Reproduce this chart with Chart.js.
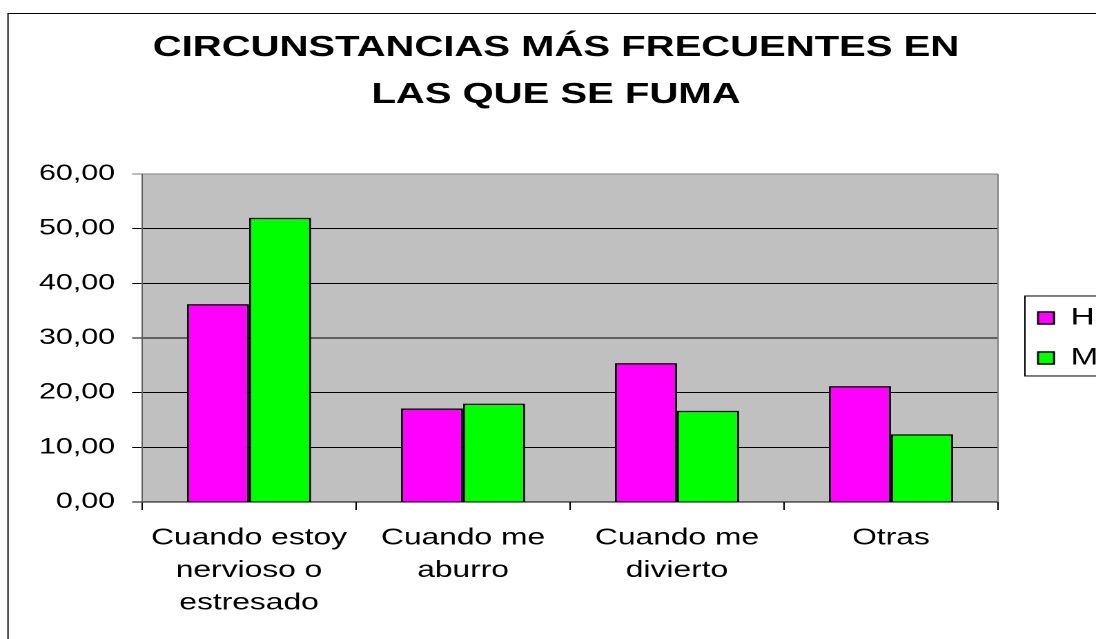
<!DOCTYPE html>
<html>
<head>
<meta charset="utf-8">
<script src="https://cdn.jsdelivr.net/npm/chart.js@4.4.1/dist/chart.umd.min.js"></script>
<style>
  html, body { margin: 0; padding: 0; background: #ffffff; overflow: hidden; }
  #wrap { width: 794px; height: 639px; transform: scaleX(1.38035); transform-origin: 0 0; }
  canvas { display: block; }
</style>
</head>
<body>
<div id="wrap"><canvas id="c" width="794" height="639"></canvas></div>
<script>
// ---- data ----
const titleLines = ["CIRCUNSTANCIAS MÁS FRECUENTES EN", "LAS QUE SE FUMA"];
const categories = [
  ["Cuando estoy", "nervioso o", "estresado"],
  ["Cuando me", "aburro"],
  ["Cuando me", "divierto"],
  "Otras"
];
const seriesNames = ["H", "M"];
const valuesH = [36.2, 17.1, 25.4, 21.2];
const valuesM = [52.0, 18.0, 16.7, 12.4];
const yMin = 0, yMax = 60, yStep = 10;

// ---- layout helpers (canvas space, horizontally stretched by CSS) ----
const FONT = "'Liberation Sans', Arial, sans-serif";
const LEGEND_PAD = 16;

const decor = {
  id: 'decor',
  afterLayout(chart) {
    const lg = chart.legend;
    const w = lg.width;
    lg.left = chart.chartArea.right + 13;
    lg.right = lg.left + w;
  },
  beforeDraw(chart) {
    const ctx = chart.ctx, a = chart.chartArea;
    ctx.save();
    ctx.fillStyle = '#ffffff';
    ctx.fillRect(0, 0, chart.width, chart.height);
    // outer frame
    ctx.strokeStyle = '#000000';
    ctx.lineWidth = 1;
    ctx.strokeRect(5.8, 13.5, chart.width + 20, chart.height + 20);
    // plot area background
    ctx.fillStyle = '#c0c0c0';
    ctx.fillRect(a.left, a.top, a.right - a.left, a.bottom - a.top);
    ctx.restore();
  },
  afterDraw(chart) {
    const ctx = chart.ctx, a = chart.chartArea, lg = chart.legend;
    ctx.save();
    // right plot border
    ctx.strokeStyle = '#808080';
    ctx.lineWidth = 1;
    ctx.beginPath();
    ctx.moveTo(a.right, a.top);
    ctx.lineTo(a.right, a.bottom);
    ctx.stroke();
    // legend frame
    const mid = (lg.top + lg.bottom) / 2;
    ctx.strokeStyle = '#000000';
    ctx.strokeRect(lg.left + LEGEND_PAD - 9.5, mid - 42, chart.width, 80);
    ctx.restore();
  }
};

new Chart(document.getElementById('c'), {
  type: 'bar',
  data: {
    labels: categories,
    datasets: [
      { label: seriesNames[0], data: valuesH, backgroundColor: '#ff00ff', borderColor: '#000000', borderWidth: 1.5 },
      { label: seriesNames[1], data: valuesM, backgroundColor: '#00ff00', borderColor: '#000000', borderWidth: 1.5 }
    ]
  },
  options: {
    responsive: false,
    animation: false,
    devicePixelRatio: 2,
    layout: { padding: { left: 22.6, right: 11, top: 0, bottom: 0 } },
    datasets: { bar: { categoryPercentage: 0.58, barPercentage: 1.0 } },
    plugins: {
      tooltip: { enabled: false },
      title: {
        display: true,
        text: titleLines,
        color: '#000000',
        font: { family: FONT, size: 29, weight: 'bold', lineHeight: 1.62 },
        padding: { top: 24.5, bottom: 55.5 }
      },
      legend: {
        display: true,
        position: 'right',
        fullSize: false,
        maxWidth: 60,
        labels: {
          color: '#000000',
          font: { family: FONT, size: 24 },
          boxWidth: 11.6,
          boxHeight: 12,
          padding: LEGEND_PAD
        }
      }
    },
    scales: {
      x: {
        offset: true,
        grid: { display: true, drawOnChartArea: false, drawTicks: true, tickLength: 8, color: '#000000', offset: true },
        border: { display: true, color: '#000000', width: 1 },
        ticks: {
          autoSkip: false, maxRotation: 0, minRotation: 0,
          color: '#000000',
          font: { family: FONT, size: 23, lineHeight: 1.413 },
          padding: 11.75
        },
        afterFit: (s) => { s.height = 137; }
      },
      y: {
        min: yMin, max: yMax,
        grid: {
          color: (c) => (c.tick && c.tick.value === yMax) ? '#808080' : '#000000',
          lineWidth: 1,
          drawTicks: true,
          tickLength: 7.2
        },
        border: { display: true, color: '#606060', width: 1 },
        ticks: {
          stepSize: yStep,
          color: '#000000',
          font: { family: FONT, size: 22 },
          padding: 12.4,
          callback: (v) => Number(v).toFixed(2).replace('.', ',')
        },
        afterFit: (s) => { s.width = 80.3; }
      }
    }
  },
  plugins: [decor]
});
</script>
</body>
</html>
